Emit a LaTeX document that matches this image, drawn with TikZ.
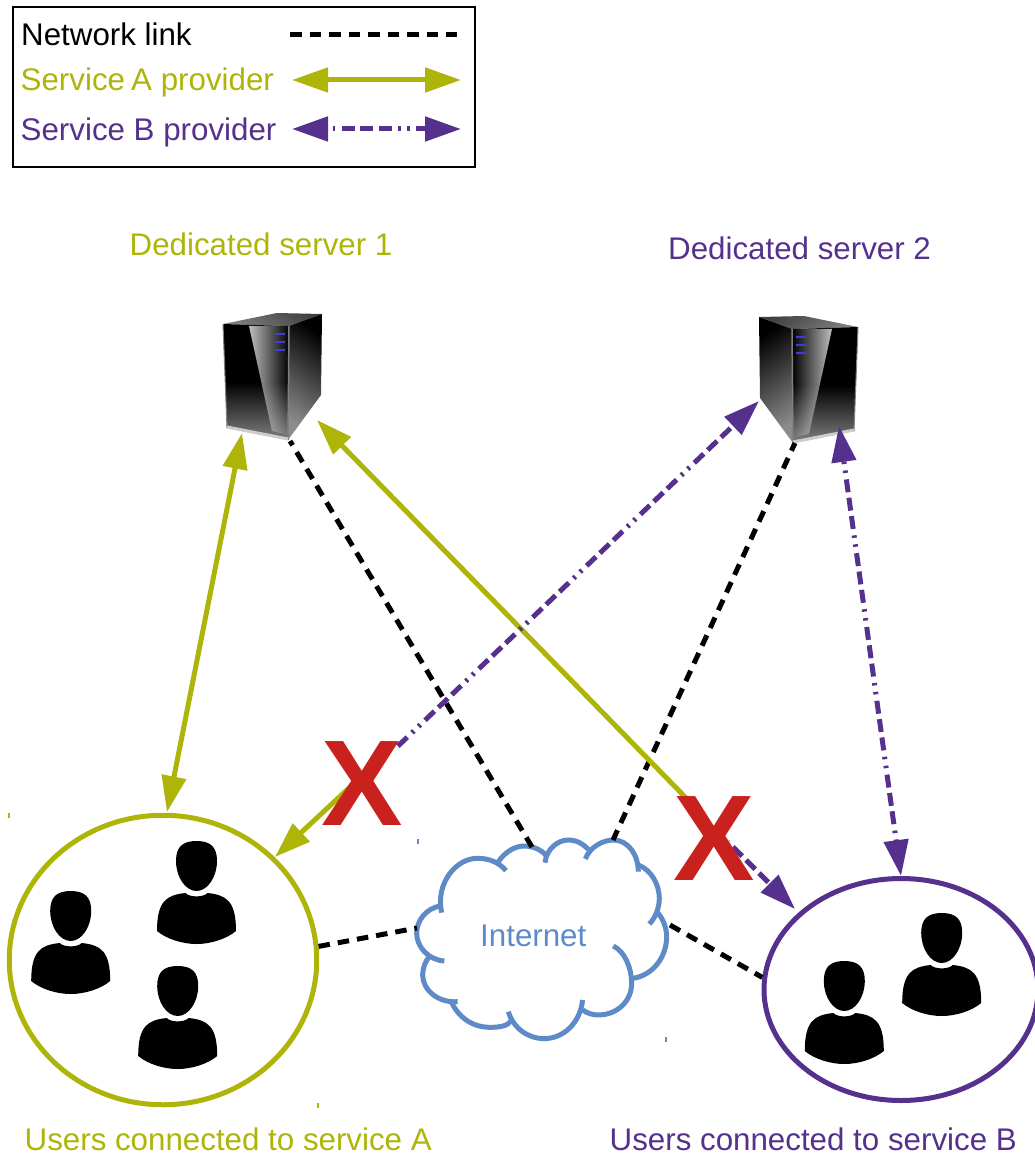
\documentclass[tikz,border=0pt]{standalone}
\usepackage{fontspec}
\setmainfont{Liberation Sans}
\usetikzlibrary{arrows.meta,shapes.geometric,fadings}
\definecolor{serviceAcol}{HTML}{AEB408}
\definecolor{serviceBcol}{HTML}{55308D}
\definecolor{cloudcol}{HTML}{5E8BC8}
\definecolor{crosscol}{HTML}{C9211E}
\definecolor{ledcol}{HTML}{3C3CDC}
\tikzset{
	label/.style={anchor=base west,font=\fontsize{31.3}{36}\selectfont},
	netlink/.style={draw=black,line width=5pt,dash pattern=on 11.5pt off 8pt},
	serviceA/.style={draw=serviceAcol,line width=5pt},
	serviceB/.style={draw=serviceBcol,line width=5pt,dash pattern=on 13pt off 5.5pt on 13pt off 5.5pt on 13pt off 6.5pt on 2.5pt off 6.5pt on 2.5pt off 6.5pt},
	cross/.style={text=crosscol,font=\fontsize{122}{122}\selectfont\bfseries},
	selmark/.style={minimum width=1.5pt,minimum height=5pt},
	groupcircle/.style={ellipse,line width=5pt,fill=white},
	pics/usericon/.style={code={
		\fill[black] (0,0) .. controls (14,0) and (20.5,6) .. (20.5,20) .. controls (20.5,36) and (11,50) .. (0,50)
			.. controls (-11,50) and (-20.5,36) .. (-20.5,20) .. controls (-20.5,6) and (-14,0) .. (0,0) -- cycle;
		\fill[black] (-11,52) .. controls (-7,56.5) and (7,56.5) .. (11,52) .. controls (30,54) and (39.5,60) .. (39.5,90)
			.. controls (30,98) and (14,103) .. (0,103) .. controls (-14,103) and (-30,98) .. (-39.5,90)
			.. controls (-39.5,60) and (-30,54) .. (-11,52) -- cycle;
	}},
	pics/serverbox/.style 2 args={code={
		\shade[top color=black!75,bottom color=black!50,shading angle=#2] (54,0) -- (99,1) -- (66,13) -- (0,11) -- cycle;
		\shade[top color=black,bottom color=black!50,middle color=black,shading angle=0] (0,11) -- (66,13) -- (65,127) -- (4,115) -- cycle;
		\fill[white,opacity=0.75,path fading=#1] (26,13) -- (66,13) -- (65,122) -- (49,118) -- cycle;
		\shade[top color=black,bottom color=black!45,shading angle=#2] (66,13) -- (99,1) -- (98,82) -- (65,127) -- cycle;
		\draw[black!50,line width=1.5pt] (66,13) -- (65,127);
		\draw[black!50,line width=1pt] (0,11) -- (4,115);
		\draw[black!20,line width=3pt] (4,114) -- (65,126);
		\draw[ledcol,line width=2.2pt] (52,21) -- (62,21);
		\draw[ledcol,line width=2.2pt] (52,29) -- (62,29);
		\draw[ledcol,line width=2.2pt] (52,37) -- (62,37);
	}}
}
\begin{document}
\begin{tikzpicture}[x=1pt, y=-1pt, >={Triangle[length=36pt,width=24pt]}, every node/.style={inner sep=0pt}]
	\useasboundingbox (0,0) rectangle (1034,1155);

	\draw[black,line width=2pt] (12.5,7.5) rectangle (475,167.5);
	\node[label] (netlabel) at (21,46) {Network link};
	\node[label,text=serviceAcol] (alabel) at (20.5,91) {Service\kern-2.5pt{} A provider};
	\node[label,text=serviceBcol] (blabel) at (20.5,141) {Service B provider};
	\coordinate (netL) at (290,35);
	\coordinate (netR) at (457,35);
	\coordinate (aL) at (292,80);
	\coordinate (aR) at (461,80);
	\coordinate (bL) at (292,129);
	\coordinate (bR) at (461,129);
	\draw[netlink] (netL) -- (netR);
	\draw[serviceA,<->] (aL) -- (aR);
	\draw[serviceB,dash phase=59.5pt,<->] (bL) -- (bR);

	\node[label,text=serviceAcol] (server1label) at (129.5,256) {Dedicated server 1};
	\node[label,text=serviceBcol] (server2label) at (668,260) {Dedicated server 2};
	\node[label,text=serviceAcol] (usersAlabel) at (24.5,1150) {Users connected to service A};
	\node[label,text=serviceBcol] (usersBlabel) at (609.5,1150) {Users connected to service B};

	\pic (server1) at (223,313) {serverbox={east}{-35}};
	\pic[xscale=-1] (server2) at (858,316) {serverbox={west}{35}};
	\coordinate (s1down) at (242,433);
	\coordinate (s1right) at (317,420);
	\coordinate (s1net) at (290,441);
	\coordinate (s2left) at (759,401);
	\coordinate (s2down) at (839,426);
	\coordinate (s2net) at (795,443);

	\node[groupcircle,draw=serviceAcol,minimum width=307.5pt,minimum height=289.5pt] (usersA) at (163,960) {};
	\node[groupcircle,draw=serviceBcol,minimum width=274pt,minimum height=222pt] (usersB) at (901,989.5) {};
	\pic (userA1) at (196.5,841) {usericon};
	\pic (userA2) at (70.7,891) {usericon};
	\pic (userA3) at (177.7,966) {usericon};
	\pic (userB1) at (941.7,913) {usericon};
	\pic (userB2) at (844.3,961) {usericon};

	\begin{scope}[shift={(400,820)},x=0.3333pt,y=-0.3333pt,draw=cloudcol,line width=5pt]
		\draw (125,278) .. controls (105,190) and (170,112) .. (235,115) .. controls (270,115) and (300,130) .. (318,152);
		\draw (295,125) .. controls (320,90) and (350,78) .. (372,78) .. controls (400,78) and (425,90) .. (440,108);
		\draw (435,128) .. controls (440,85) and (475,60) .. (505,60) .. controls (530,60) and (550,72) .. (565,88);
		\draw (556,117) .. controls (570,80) and (610,60) .. (640,60) .. controls (685,60) and (715,105) .. (715,155);
		\draw (715,135) .. controls (755,150) and (778,195) .. (778,235) .. controls (778,265) and (765,295) .. (748,312);
		\draw (770,275) .. controls (790,295) and (800,325) .. (800,350) .. controls (800,410) and (760,465) .. (700,475);
		\draw (640,378) .. controls (675,395) and (695,445) .. (695,490) .. controls (695,545) and (650,585) .. (595,585) .. controls (578,585) and (562,580) .. (548,570);
		\draw (548,540) .. controls (540,610) and (490,656) .. (432,656) .. controls (385,656) and (340,625) .. (325,575);
		\draw (335,600) .. controls (325,618) and (300,622) .. (270,622) .. controls (215,622) and (175,590) .. (155,548);
		\draw (173,545) .. controls (115,550) and (68,510) .. (68,465) .. controls (68,445) and (75,425) .. (88,410);
		\draw (133,423) .. controls (85,420) and (50,380) .. (50,340) .. controls (50,300) and (80,265) .. (120,258);
	\end{scope}
	\node[label,text=cloudcol] (internet) at (480,946) {Internet};
	\coordinate (cloudtopL) at (532,847);
	\coordinate (cloudtopR) at (613,840);
	\coordinate (cloudleft) at (417,928);
	\coordinate (cloudright) at (670,925);

	\draw[netlink,dash phase=6.5pt] (s1net) -- (cloudtopL);
	\draw[netlink,dash phase=3pt] (s2net) -- (cloudtopR);
	\draw[netlink] (usersA.5) -- (cloudleft);
	\draw[netlink] (cloudright) -- (usersB.175);

	\coordinate (cross1in) at (397,747);
	\coordinate (cross1out) at (350,787);
	\coordinate (cross2in) at (690,802);
	\coordinate (cross2out) at (728,842);
	\coordinate (usersAdown) at (167,812);
	\coordinate (usersAcross) at (275,857);
	\coordinate (usersBcross) at (795,909);
	\draw[serviceA,<->] (s1down) -- (usersAdown);
	\draw[serviceA,<-] (s1right) -- (cross2in);
	\draw[serviceA,->] (cross1out) -- (usersAcross);
	\draw[serviceB,dash phase=55.35pt,<->] (s2down) -- (usersB.north);
	\draw[serviceB,dash phase=69.75pt,<-] (s2left) -- (cross1in);
	\draw[serviceB,dash phase=67.5pt,->] (cross2out) -- (usersBcross);

	\node[cross] (cross1) at (362.5,783.5) {X};
	\node[cross] (cross2) at (714,838.5) {X};

	\node[selmark,fill=serviceAcol] (markA1) at (9,815) {};
	\node[selmark,fill=serviceAcol] (markA2) at (318,1105) {};
	\node[selmark,fill=cloudcol] (markC1) at (418,841) {};
	\node[selmark,fill=cloudcol] (markC2) at (666,1039) {};
\end{tikzpicture}
\end{document}
